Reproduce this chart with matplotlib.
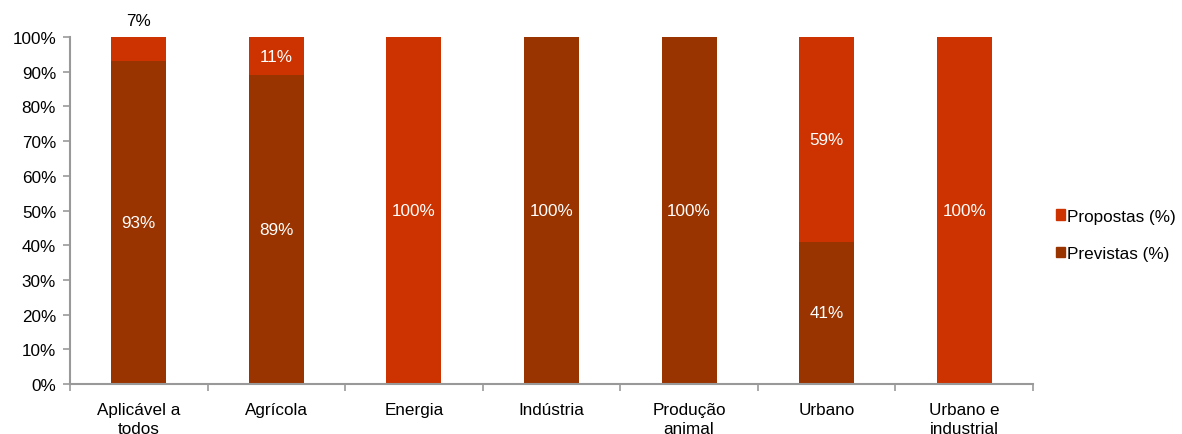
import matplotlib
matplotlib.use("Agg")
import matplotlib.pyplot as plt
from matplotlib.patches import Patch
from matplotlib.ticker import FixedLocator, NullFormatter

plt.rcParams['font.family'] = ['Liberation Sans', 'DejaVu Sans']

categories = ["Aplicável a\ntodos", "Agrícola", "Energia", "Indústria", "Produção\nanimal", "Urbano", "Urbano e\nindustrial"]
previstas = [93, 89, 0, 100, 100, 41, 0]
propostas = [7, 11, 100, 0, 0, 59, 100]

c_prev = "#993300"
c_prop = "#CC3300"

fig = plt.figure(figsize=(11.82, 4.35), dpi=100)
ax = fig.add_axes([0.0592, 0.1149, 0.8147, 0.7977])

x = list(range(len(categories)))
w = 0.4
ax.bar(x, previstas, width=w, color=c_prev, label="Previstas (%)")
ax.bar(x, propostas, width=w, bottom=previstas, color=c_prop, label="Propostas (%)")

fs = 12.3
for i in x:
    p, q = previstas[i], propostas[i]
    if p > 0:
        ax.text(i, p / 2, f"{p}%", ha="center", va="center", color="white", fontsize=fs)
    if q > 0:
        if q < 10:
            ax.text(i, 100 + 2.5, f"{q}%", ha="center", va="bottom", color="black", fontsize=fs, clip_on=False)
        else:
            ax.text(i, p + q / 2, f"{q}%", ha="center", va="center", color="white", fontsize=fs)

ax.set_xlim(-0.5, len(categories) - 0.5)
ax.set_ylim(0, 100)
ax.set_yticks(range(0, 101, 10))
ax.set_yticklabels([f"{v}%" for v in range(0, 101, 10)], fontsize=fs)
ax.set_xticks(x)
ax.set_xticklabels(categories, fontsize=fs, linespacing=1.3)
ax.tick_params(axis="x", which="major", length=0, pad=13)
ax.xaxis.set_minor_locator(FixedLocator([i - 0.5 for i in range(len(categories) + 1)]))
ax.xaxis.set_minor_formatter(NullFormatter())
ax.tick_params(axis="x", which="minor", length=5, width=1.2, color="#999999", direction="out")
ax.tick_params(axis="y", length=5, width=1.2, color="#999999", direction="out", pad=5)

for s in ["top", "right"]:
    ax.spines[s].set_visible(False)
for s in ["left", "bottom"]:
    ax.spines[s].set_color("#999999")
    ax.spines[s].set_linewidth(1.5)

handles = [Patch(color=c_prop, label="Propostas (%)"), Patch(color=c_prev, label="Previstas (%)")]
fig.legend(handles=handles, loc="center left", bbox_to_anchor=(0.88, 0.458), frameon=False,
           fontsize=fs, handlelength=0.55, handleheight=0.55, handletextpad=0.15, labelspacing=1.3)

fig.savefig("out.png", dpi=100)
